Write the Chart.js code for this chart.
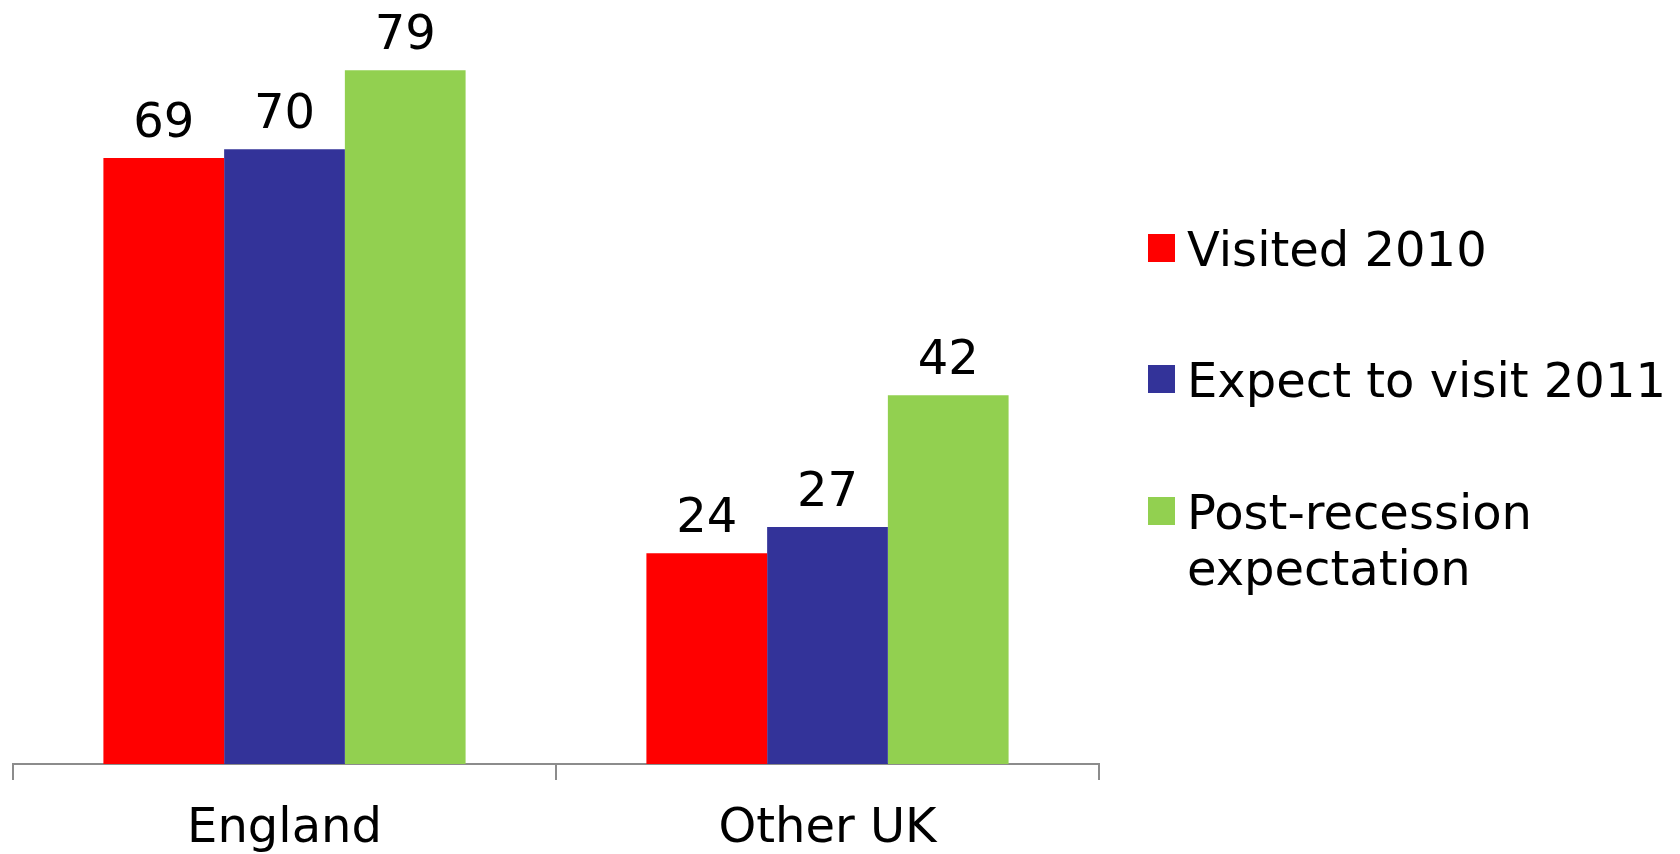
<!DOCTYPE html>
<html>
<head>
<meta charset="utf-8">
<script src="https://cdn.jsdelivr.net/npm/chart.js@4/dist/chart.umd.min.js"></script>
<style>
  html, body { margin: 0; padding: 0; background: #fff; }
  #wrap { width: 1680px; height: 854px; }
</style>
</head>
<body>
<div id="wrap"><canvas id="grafico"></canvas></div>
<script>
const categorias = ["England", "Other UK"];
const series = ["Visited 2010", "Expect to visit 2011", ["Post-recession", "expectation"]];
const visitado2010 = [69, 24];
const espera2011 = [70, 27];
const postRecesion = [79, 42];
const colores = ["#FF0000", "#333399", "#92D050"];

const FUENTE = "'DejaVu Sans', Verdana, sans-serif";

// etiquetas de valor encima de cada barra
const etiquetasValor = {
  id: "etiquetasValor",
  afterDatasetsDraw(chart) {
    const ctx = chart.ctx;
    ctx.save();
    ctx.font = "48px " + FUENTE;
    ctx.fillStyle = "#000";
    ctx.textAlign = "center";
    ctx.textBaseline = "alphabetic";
    chart.data.datasets.forEach((ds, i) => {
      chart.getDatasetMeta(i).data.forEach((bar, j) => {
        ctx.fillText(String(ds.data[j]), bar.x, bar.y - 21);
      });
    });
    ctx.restore();
  }
};

// leyenda a la derecha
const leyenda = {
  id: "leyenda",
  afterDraw(chart) {
    const ctx = chart.ctx;
    const filas = [266, 397, 529];
    ctx.save();
    ctx.font = "48px " + FUENTE;
    ctx.textBaseline = "alphabetic";
    ctx.textAlign = "left";
    series.forEach((nombre, i) => {
      const base = filas[i];
      ctx.fillStyle = colores[i];
      ctx.fillRect(1148, base - 32, 27, 28);
      ctx.fillStyle = "#000";
      const lineas = Array.isArray(nombre) ? nombre : [nombre];
      lineas.forEach((t, k) => ctx.fillText(t, 1187, base + k * 56));
    });
    ctx.restore();
  }
};

new Chart(document.getElementById("grafico"), {
  type: "bar",
  data: {
    labels: categorias,
    datasets: [
      { label: "Visited 2010", data: visitado2010, backgroundColor: colores[0] },
      { label: "Expect to visit 2011", data: espera2011, backgroundColor: colores[1] },
      { label: "Post-recession expectation", data: postRecesion, backgroundColor: colores[2] }
    ]
  },
  options: {
    responsive: true,
    maintainAspectRatio: false,
    animation: false,
    devicePixelRatio: 1,
    layout: { padding: { left: 13, right: 581, top: 0, bottom: 0 } },
    datasets: { bar: { categoryPercentage: 0.667, barPercentage: 1.0 } },
    plugins: {
      legend: { display: false },
      tooltip: { enabled: false }
    },
    scales: {
      x: {
        offset: true,
        grid: {
          offset: true,
          drawOnChartArea: false,
          drawTicks: true,
          tickLength: 16,
          color: "#8c8c8c",
          lineWidth: 2
        },
        border: { display: true, color: "#8c8c8c", width: 2 },
        ticks: {
          color: "#000",
          font: { family: FUENTE, size: 48 },
          padding: 21
        },
        afterFit(s) { s.height = 90; }
      },
      y: {
        display: false,
        min: 0,
        max: 87
      }
    }
  },
  plugins: [etiquetasValor, leyenda]
});
</script>
</body>
</html>
